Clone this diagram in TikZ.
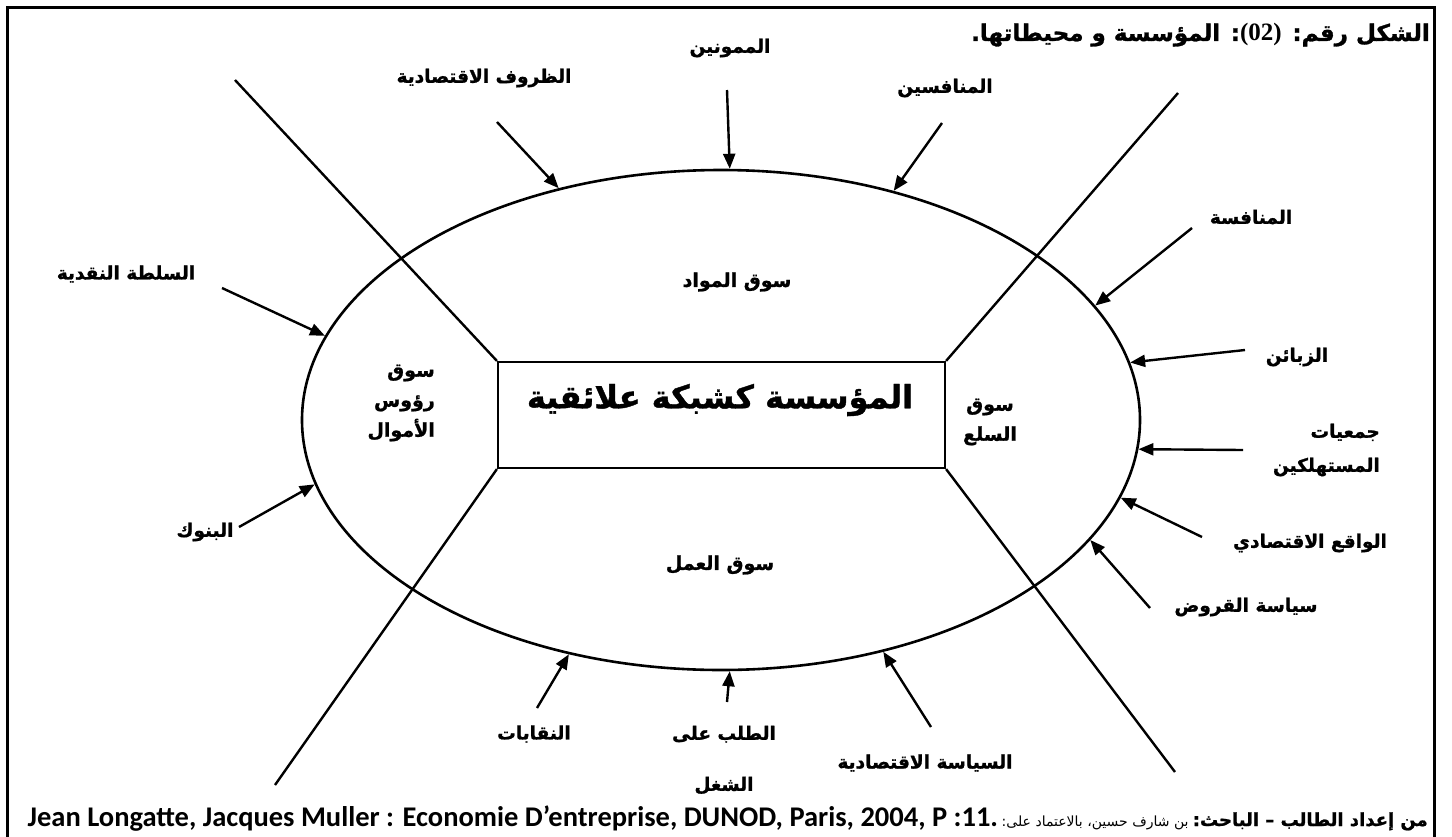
\documentclass[tikz,border=0pt]{standalone}
\usepackage{fontspec}
\setmainfont{Liberation Sans}
\newfontfamily\arabicfont[Script=Arabic, BoldFeatures={FakeBold=1.2}]{DejaVu Sans}
\newfontfamily\capfont{Carlito}
\newfontfamily\numfont{Liberation Serif}
\TeXXeTstate=1
\usetikzlibrary{arrows.meta,shapes.geometric}
\newcommand{\artext}[1]{{\arabicfont\bfseries\beginR #1\endR}}
\tikzset{
  frame/.style={line width=3pt},
  ring/.style={ellipse, draw, line width=2.6pt, inner sep=0pt},
  corebox/.style={draw, line width=2.2pt, fill=white, inner sep=0pt},
  divider/.style={line width=2.4pt},
  push/.style={line width=2.4pt, -{Triangle[length=15pt,width=12pt]}},
  outer/.style={font=\fontsize{18.5}{34}\selectfont, align=center, inner sep=0pt},
  sector/.style={font=\fontsize{19}{30}\selectfont, align=center, inner sep=0pt},
}
\begin{document}
\begin{tikzpicture}[x=1pt,y=-1pt]
\useasboundingbox (0,0) rectangle (1452,836);
\draw[frame] (7,845) -- (7,7) -- (1434,7) -- (1434,845);

% environment ring and the firm at its centre
\node[ring, minimum width=838pt, minimum height=500pt] (env) at (721,420) {};

\coordinate (ul) at (235,80);
\coordinate (ur) at (1178,93);
\coordinate (ll) at (275,785);
\coordinate (lr) at (1175,772);
\node[corebox, minimum width=447pt, minimum height=106pt] (core) at (721.5,415) {};
\draw[divider] (core.north west) -- (ul);
\draw[divider] (core.north east) -- (ur);
\draw[divider] (core.south west) -- (ll);
\draw[divider] (core.south east) -- (lr);
\node[inner sep=0pt] (coretext) at (720,400) {\fontsize{32}{38}\selectfont\artext{المؤسسة كشبكة علائقية}};

% the four markets
\node[sector] (mat) at (737,282) {\artext{سوق المواد}};
\node[sector, align=right, anchor=east] (cap) at (435,403) {\artext{سوق}\\\artext{رؤوس}\\\artext{الأموال}};
\node[sector] (goods) at (990,422) {\artext{سوق}\\\artext{السلع}};
\node[sector] (lab) at (720,565) {\artext{سوق العمل}};

% title
\node[anchor=east, inner sep=0pt] (title) at (1430,35) {\fontsize{23}{28}\selectfont\artext{الشكل رقم: \beginL{\numfont\bfseries\fontsize{25}{28}\selectfont (02)}\endL: المؤسسة و محيطاتها.}};

% outside actors
\node[outer] (suppliers) at (730,48) {\artext{الممونين}};
\node[outer] (econcond) at (484,78) {\artext{الظروف الاقتصادية}};
\node[outer] (rivals) at (945,88) {\artext{المنافسين}};
\node[outer] (competition) at (1251,217) {\artext{المنافسة}};
\node[outer] (monetary) at (126,274) {\artext{السلطة النقدية}};
\node[outer] (clients) at (1297,357) {\artext{الزبائن}};
\node[outer, align=right, anchor=east] (consumers) at (1380,450) {\artext{جمعيات}\\\artext{المستهلكين}};
\node[outer] (banks) at (205,532) {\artext{البنوك}};
\node[outer] (reality) at (1310,543) {\artext{الواقع الاقتصادي}};
\node[outer] (credit) at (1246,607) {\artext{سياسة القروض}};
\node[outer] (unions) at (534,734) {\artext{النقابات}};
\node[outer, font=\fontsize{18.5}{51}\selectfont] (jobs) at (724,760) {\artext{الطلب على}\\\artext{الشغل}};
\node[outer] (policy) at (925,763) {\artext{السياسة الاقتصادية}};

% arrow tails
\coordinate (t1) at (727,90);
\coordinate (t2) at (497,122);
\coordinate (t3) at (942,123);
\coordinate (t4) at (1192,228);
\coordinate (t5) at (1245,350);
\coordinate (t6) at (1243,450);
\coordinate (t7) at (1202,537);
\coordinate (t8) at (1150,608);
\coordinate (t9) at (931,727);
\coordinate (t10) at (727,702);
\coordinate (t11) at (537,708);
\coordinate (t12) at (239,527);
\coordinate (t13) at (222,288);

\draw[push] (t1) -- (env.88.6);
\draw[push] (t2) -- (env.125);
\draw[push] (t3) -- (env.53.3);
\draw[push] (t4) -- (env.17.3);
\draw[push] (t5) -- (env.8.1);
\draw[push] (t6) -- (env.-4.1);
\draw[push] (t7) -- (env.-11.4);
\draw[push] (t8) -- (env.-18.8);
\draw[push] (t9) -- (env.-55.4);
\draw[push] (t10) -- (env.-88.6);
\draw[push] (t11) -- (env.-123.4);
\draw[push] (t12) -- (env.189.9);
\draw[push] (t13) -- (env.168.8);

% source line
\node[anchor=base east, inner sep=0pt] (source) at (1428,826) {{\capfont\bfseries\fontsize{28.5}{32}\selectfont Jean Longatte, Jacques Muller : Economie D’entreprise, DUNOD, Paris, 2004, P :11.} {\arabicfont\beginR{\bfseries\fontsize{18}{24}\selectfont من إعداد الطالب – الباحث:} {\fontsize{14}{24}\selectfont بن شارف حسين، بالاعتماد على:}\endR}};
\end{tikzpicture}
\end{document}
